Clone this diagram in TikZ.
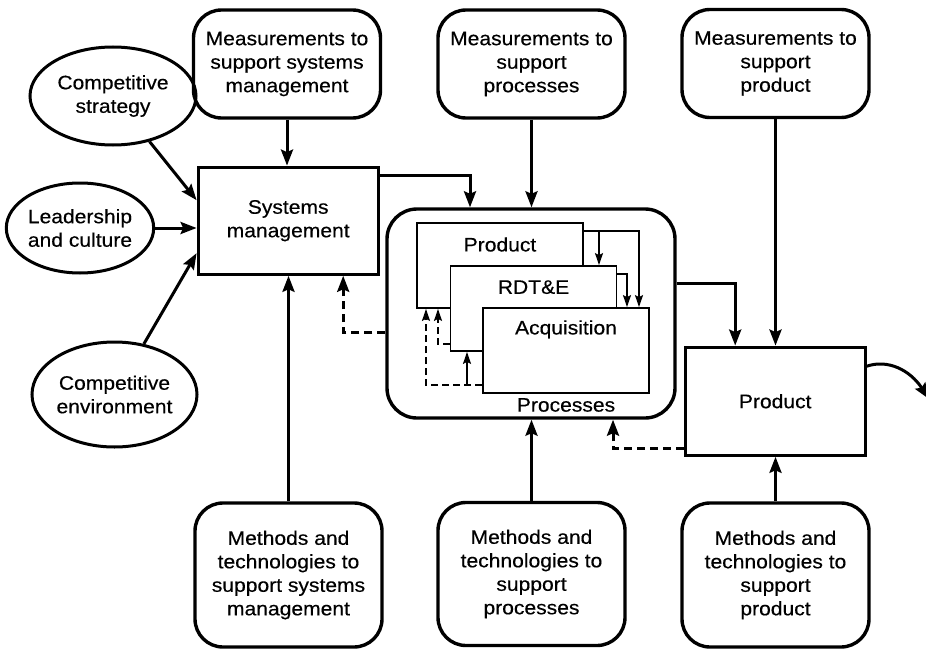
\documentclass[tikz,border=0pt]{standalone}
\usepackage{fontspec}
\setmainfont{Liberation Sans}[FakeStretch=1.08,FakeBold=0.4]
\usetikzlibrary{arrows.meta,shapes.geometric,calc}
\tikzset{
 txt/.style={font=\fontsize{19.5pt}{23.5pt}\selectfont, align=center, inner sep=0pt},
 rbox/.style={txt, draw, line width=3.4pt, rounded corners=28pt, minimum width=187pt},
 sbox/.style={txt, draw, line width=3.2pt},
 ell/.style={txt, draw, ellipse, line width=3pt},
 ibox/.style={draw, fill=white, line width=1.8pt, minimum width=166pt, minimum height=85pt, inner sep=0pt},
 ilab/.style={txt, anchor=north, yshift=-15pt},
 arr/.style={line width=3pt, -{Stealth[length=16pt,width=12pt,inset=2.5pt]}},
 darr/.style={arr, dash pattern=on 8pt off 5pt},
 iarr/.style={line width=1.6pt, -{Stealth[length=12pt,width=8pt,inset=2pt]}},
 idarr/.style={iarr, dash pattern=on 7pt off 4pt},
}
\begin{document}
\begin{tikzpicture}[x=1pt,y=-1pt]
\useasboundingbox (0,0) rectangle (926,650);
% top measurement boxes
\node[rbox, minimum height=108pt] (m1) at (287,64) {Measurements to\\support systems\\management};
\node[rbox, minimum height=108pt] (m2) at (531.5,64) {Measurements to\\support\\processes};
\node[rbox, minimum height=108pt] (m3) at (775.5,63.5) {Measurements to\\support\\product};
% bottom method boxes
\node[rbox, minimum height=144pt] (t1) at (288.5,575) {Methods and\\technologies to\\support systems\\management};
\node[rbox, minimum height=143pt] (t2) at (531.5,574) {Methods and\\technologies to\\support\\processes};
\node[rbox, minimum height=144pt] (t3) at (775.5,575) {Methods and\\technologies to\\support\\product};
% main boxes
\node[sbox, minimum width=180pt, minimum height=107pt] (sys) at (288.2,220.7) {Systems\\management};
\node[draw, line width=3.4pt, rounded corners=30pt, minimum width=288pt, minimum height=209pt, inner sep=0pt] (proc) at (531,313.5) {};
\node[txt] (plab) at (566,405) {Processes};
\node[sbox, minimum width=180pt, minimum height=108pt] (prod) at (775.2,401.2) {Product};
% ellipses
\node[ell, minimum width=166pt, minimum height=98pt] (e1) at (113,96) {Competitive\\strategy};
\node[ell, minimum width=140pt, minimum height=90pt] (e2) at (80,228) {Leadership\\and culture};
\node[ell, minimum width=165pt, minimum height=105pt] (e3) at (114.5,394.5) {Competitive\\environment};
% inner boxes
\node[ibox, label={[ilab]north:Product}] (ip) at (500,265.5) {};
\node[ibox, label={[ilab]north:RDT\&E}] (ir) at (533.5,308.5) {};
\node[ibox, label={[ilab,yshift=2pt]north:Acquisition}] (ia) at (566,350.5) {};
% vertical connectors
\draw[arr] (m1.south) -- (m1.south |- sys.north);
\draw[arr] (m2.south) -- (m2.south |- proc.north);
\draw[arr] (m3.south) -- (m3.south |- prod.north);
\draw[arr] (t1.north) -- (t1.north |- sys.south);
\draw[arr] (t2.north) -- (t2.north |- proc.south);
\draw[arr] (t3.north) -- (t3.north |- prod.south);
% ellipses to systems management
\draw[arr] (e1) -- ([yshift=20.5pt]sys.west);
\draw[arr] (e2.east) -- (e2.east -| sys.west);
\draw[arr] (e3) -- ([yshift=-32.5pt]sys.west);
% main flow
\draw[arr] ([yshift=-10pt]sys.north east) -| ([xshift=-61pt]proc.north);
\draw[arr] ([yshift=30.5pt]proc.east) -| ([xshift=-40pt]prod.north);
\draw[darr] ([yshift=-18.5pt]proc.west) -| ([xshift=55pt]sys.south);
\draw[darr] ([yshift=8pt]prod.south west) -| ([xshift=82pt]proc.south);
\coordinate (out) at (929,399);
\draw[arr] ([yshift=35pt]prod.east) .. controls (888,359) and (910,370) .. (out);
% inner connectors
\draw[iarr] ([yshift=-9pt]ip.north east) -| ([xshift=73pt]ia.north);
\draw[iarr] ([yshift=-9pt]ip.north east) -| ([xshift=65.5pt]ir.north);
\draw[iarr] ([yshift=-9pt]ir.north east) -| ([xshift=61pt]ia.north);
\coordinate (ja) at ([yshift=9pt]ia.south west);
\coordinate (jr) at ([xshift=-66.5pt]ir.south);
\draw[idarr] (ja) -| ([xshift=-74pt]ip.south);
\draw[iarr] (jr |- ja) -- (jr);
\draw[idarr] ([yshift=8pt]ir.south west) -| ([xshift=-62pt]ip.south);
\end{tikzpicture}
\end{document}
